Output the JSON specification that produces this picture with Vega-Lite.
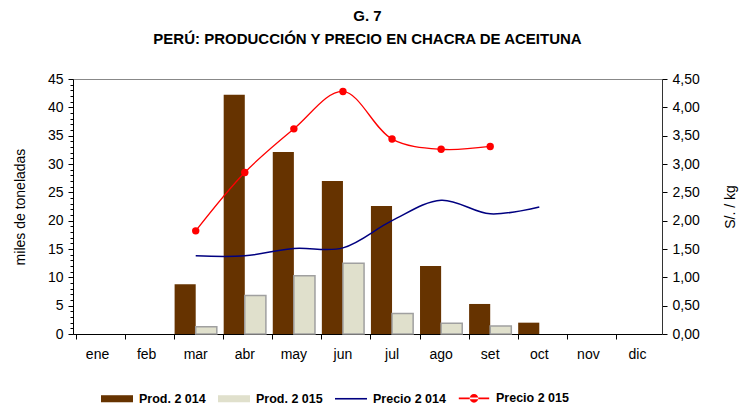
{
  "$schema": "https://vega.github.io/schema/vega-lite/v6.json",
  "width": 589,
  "height": 255,
  "autosize": "none",
  "padding": {"left": 73, "top": 79, "right": 79, "bottom": 71},
  "background": "white",
  "config": {
    "font": "Liberation Sans",
    "view": {"stroke": "#888888", "strokeWidth": 1},
    "axis": {"labelFont": "Liberation Sans", "titleFont": "Liberation Sans", "labelColor": "#000", "titleColor": "#000", "domainColor": "#000", "tickColor": "#000", "grid": false}
  },
  "title": {
    "text": ["G. 7", "PERÚ: PRODUCCIÓN Y PRECIO EN CHACRA DE ACEITUNA"],
    "font": "Liberation Sans",
    "fontSize": 15,
    "fontWeight": "bold",
    "color": "#000",
    "anchor": "middle",
    "lineHeight": 23,
    "offset": 25
  },
  "data": {
    "values": [
      {"mes": "mar", "serie": "Prod. 2 014", "valor": 8.8},
      {"mes": "abr", "serie": "Prod. 2 014", "valor": 42.2},
      {"mes": "may", "serie": "Prod. 2 014", "valor": 32.1},
      {"mes": "jun", "serie": "Prod. 2 014", "valor": 27.0},
      {"mes": "jul", "serie": "Prod. 2 014", "valor": 22.6},
      {"mes": "ago", "serie": "Prod. 2 014", "valor": 12.0},
      {"mes": "set", "serie": "Prod. 2 014", "valor": 5.3},
      {"mes": "oct", "serie": "Prod. 2 014", "valor": 2.0},
      {"mes": "mar", "serie": "Prod. 2 015", "valor": 1.3},
      {"mes": "abr", "serie": "Prod. 2 015", "valor": 6.8},
      {"mes": "may", "serie": "Prod. 2 015", "valor": 10.3},
      {"mes": "jun", "serie": "Prod. 2 015", "valor": 12.5},
      {"mes": "jul", "serie": "Prod. 2 015", "valor": 3.6},
      {"mes": "ago", "serie": "Prod. 2 015", "valor": 1.9},
      {"mes": "set", "serie": "Prod. 2 015", "valor": 1.4},
      {"mes": "mar", "serie": "Precio 2 014", "valor": 1.38},
      {"mes": "abr", "serie": "Precio 2 014", "valor": 1.38},
      {"mes": "may", "serie": "Precio 2 014", "valor": 1.51},
      {"mes": "jun", "serie": "Precio 2 014", "valor": 1.52},
      {"mes": "jul", "serie": "Precio 2 014", "valor": 2.0},
      {"mes": "ago", "serie": "Precio 2 014", "valor": 2.36},
      {"mes": "set", "serie": "Precio 2 014", "valor": 2.12},
      {"mes": "oct", "serie": "Precio 2 014", "valor": 2.24},
      {"mes": "mar", "serie": "Precio 2 015", "valor": 1.82},
      {"mes": "abr", "serie": "Precio 2 015", "valor": 2.85},
      {"mes": "may", "serie": "Precio 2 015", "valor": 3.62},
      {"mes": "jun", "serie": "Precio 2 015", "valor": 4.28},
      {"mes": "jul", "serie": "Precio 2 015", "valor": 3.44},
      {"mes": "ago", "serie": "Precio 2 015", "valor": 3.26},
      {"mes": "set", "serie": "Precio 2 015", "valor": 3.31}
    ]
  },
  "encoding": {
    "x": {
      "field": "mes",
      "type": "ordinal",
      "sort": ["ene", "feb", "mar", "abr", "may", "jun", "jul", "ago", "set", "oct", "nov", "dic"],
      "scale": {"domain": ["ene", "feb", "mar", "abr", "may", "jun", "jul", "ago", "set", "oct", "nov", "dic"], "paddingInner": 0.14, "paddingOuter": 0.07},
      "axis": {"title": null, "labelAngle": 0, "labelFontSize": 14, "labelPadding": 8, "tickSize": 5, "bandPosition": 0, "domainColor": "#000"}
    }
  },
  "layer": [
    {
      "encoding": {
        "y": {
          "field": "valor",
          "type": "quantitative",
          "scale": {"domain": [0, 45], "nice": false},
          "axis": {
            "title": "miles de toneladas",
            "titleFontSize": 14,
            "titleFontWeight": "normal",
            "titlePadding": 20,
            "values": [0,1,2,3,4,5,6,7,8,9,10,11,12,13,14,15,16,17,18,19,20,21,22,23,24,25,26,27,28,29,30,31,32,33,34,35,36,37,38,39,40,41,42,43,44,45],
            "labelExpr": "datum.value % 5 === 0 ? datum.value : ''",
            "labelOverlap": false,
            "tickSize": {"condition": {"test": "datum.value % 5 === 0", "value": 5}, "value": 3},
            "labelFontSize": 14,
            "labelPadding": 5
          }
        }
      },
      "layer": [
        {
          "transform": [{"filter": "indexof(datum.serie, 'Prod') === 0"}],
          "mark": {"type": "bar", "strokeWidth": 1.5},
          "encoding": {
            "xOffset": {"field": "serie", "type": "nominal", "sort": ["Prod. 2 014", "Prod. 2 015"], "scale": {"paddingInner": 0}},
            "fill": {"condition": {"test": "datum.serie === 'Prod. 2 015'", "value": "#E0E0CC"}, "value": "#663300"},
            "stroke": {"condition": {"test": "datum.serie === 'Prod. 2 015'", "value": "#a0a0a0"}, "value": "transparent"}
          }
        },
        {
          "transform": [{"filter": "false"}],
          "mark": {"type": "point", "filled": true, "opacity": 1},
          "encoding": {
            "color": {
              "field": "serie",
              "type": "nominal",
              "scale": {"domain": ["Prod. 2 014", "Prod. 2 015", "Precio 2 014", "Precio 2 015"], "range": ["#663300", "#E0E0CC", "#000080", "#FF0000"]},
              "legend": {
                "title": null,
                "orient": "none",
                "direction": "horizontal",
                "legendX": 27,
                "legendY": 302,
                "symbolSize": 1024,
                "symbolOpacity": 1,
                "labelFontSize": 12.5,
                "labelFontWeight": "bold",
                "labelFont": "Liberation Sans",
                "labelColor": "#000",
                "labelOffset": 5,
                "columnPadding": 9
              }
            },
            "shape": {
              "field": "serie",
              "type": "nominal",
              "scale": {
                "domain": ["Prod. 2 014", "Prod. 2 015", "Precio 2 014", "Precio 2 015"],
                "range": ["M-1,-0.22H1V0.22H-1Z", "M-1,-0.22H1V0.22H-1Z", "M-1,-0.05H1V0.05H-1Z", "M-0.95,-0.05H0.95V0.05H-0.95Z M-0.27,0A0.27,0.27 0 1,0 0.27,0A0.27,0.27 0 1,0 -0.27,0Z"]
              },
              "legend": {
                "title": null,
                "orient": "none",
                "direction": "horizontal",
                "legendX": 27,
                "legendY": 302,
                "symbolSize": 1024,
                "symbolOpacity": 1,
                "labelFontSize": 12.5,
                "labelFontWeight": "bold",
                "labelFont": "Liberation Sans",
                "labelColor": "#000",
                "labelOffset": 5,
                "columnPadding": 9
              }
            }
          }
        }
      ]
    },
    {
      "encoding": {
        "y": {
          "field": "valor",
          "type": "quantitative",
          "scale": {"domain": [0, 4.5], "nice": false},
          "axis": {
            "orient": "right",
            "title": "S/. / kg",
            "titleAngle": 270,
            "titleFontSize": 14,
            "titleFontWeight": "normal",
            "titlePadding": 38,
            "values": [0, 0.5, 1, 1.5, 2, 2.5, 3, 3.5, 4, 4.5],
            "labelExpr": "replace(format(datum.value, '.2f'), '.', ',')",
            "labelOverlap": false,
            "labelFontSize": 14,
            "labelPadding": 5,
            "tickSize": 5,
            "domainColor": "#333"
          }
        }
      },
      "layer": [
        {
          "transform": [{"filter": "datum.serie === 'Precio 2 014'"}],
          "mark": {"type": "line", "color": "#000080", "strokeWidth": 1.5, "interpolate": "catmull-rom"}
        },
        {
          "transform": [{"filter": "datum.serie === 'Precio 2 015'"}],
          "mark": {"type": "line", "color": "#FF0000", "strokeWidth": 1.3, "interpolate": "catmull-rom", "point": {"filled": true, "size": 55, "color": "#FF0000", "opacity": 1}}
        }
      ]
    }
  ],
  "resolve": {"scale": {"y": "independent"}}
}
